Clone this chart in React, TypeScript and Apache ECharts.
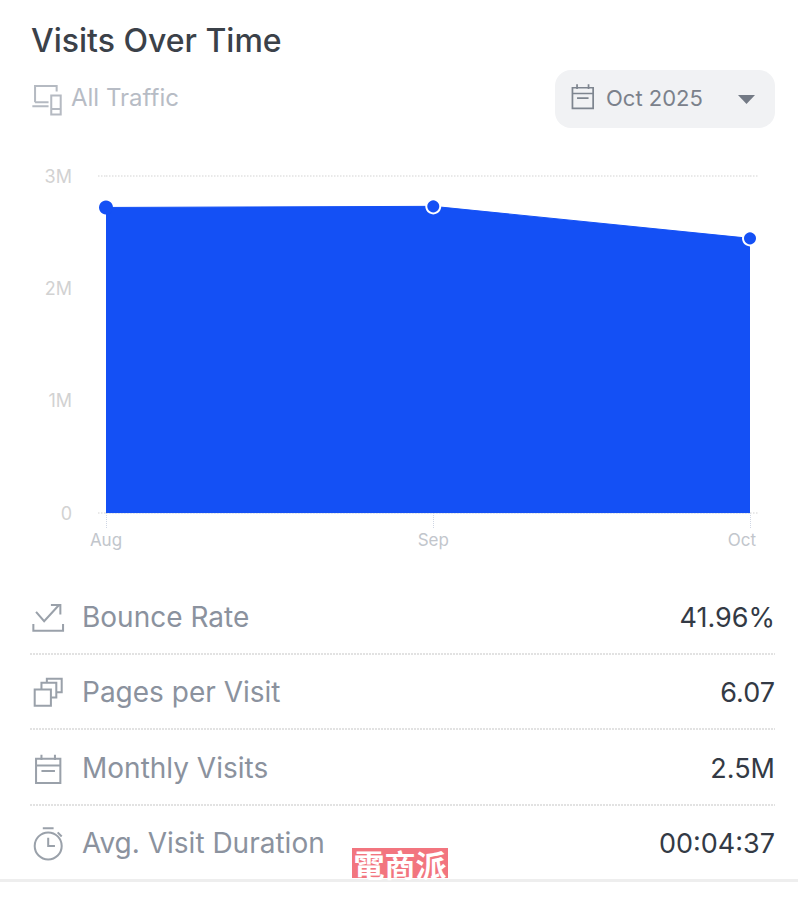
import { useEffect, useRef } from 'react';
import * as echarts from 'echarts';

const dates = ['2025-08-01', '2025-09-01', '2025-10-01'];
const monthNames = ['Aug', 'Sep', 'Oct'];
const visits = [2720000, 2730000, 2445000];
const statLabels = ['Bounce Rate', 'Pages per Visit', 'Monthly Visits', 'Avg. Visit Duration'];
const statValues = ['41.96%', '6.07', '2.5M', '00:04:37'];
const statIcons = ['iconBounce', 'iconPages', 'iconCalendar', 'iconTimer'];

const FONT = 'Inter, "Noto Sans", sans-serif';

// small line icons, drawn in a 24x24 box
echarts.graphic.registerShape('iconDevices', echarts.graphic.extendPath('M3 15V3H19V7M3 15H13M1 18H13M15 10H22V24H15ZM15 20H22', {}));
echarts.graphic.registerShape('iconCalendar', echarts.graphic.extendPath('M3 5H21V23H3ZM3 10H21M7 2V6M17 2V6M7 14H17', {}));
echarts.graphic.registerShape('iconBounce', echarts.graphic.extendPath('M3 8L9 15L20 3M14 3H21V10M1 17V22H23V17', {}));
echarts.graphic.registerShape('iconPages', echarts.graphic.extendPath('M2 10H14V22H2ZM7 10V5H18V16H14M11 5V2H22V12H18', {}));
echarts.graphic.registerShape('iconTimer', echarts.graphic.extendPath('M22 14A10 10 0 1 1 2 14A10 10 0 1 1 22 14ZM12 8V14H17M8 1H16M19 4L22 7', {}));

function label(text: string, x: number, y: number, fontSize: number, fill: string, textAlign = 'left', fontWeight = 400) {
    return {
        type: 'text',
        z: 10,
        style: { text, x, y, fontSize, fill, textAlign, fontWeight, fontFamily: FONT, textVerticalAlign: 'middle' },
    };
}

function icon(type: string, x: number, y: number, stroke: string) {
    return {
        type,
        x,
        y,
        scaleX: 1.35,
        scaleY: 1.35,
        z: 10,
        style: { stroke, fill: 'none', lineWidth: 1.5 },
    };
}

function gridStub(x1: number, x2: number, y: number) {
    return {
        type: 'line',
        z: 1,
        shape: { x1, y1: y, x2, y2: y },
        style: { stroke: '#e2e2e2', lineWidth: 1.5, lineDash: [1.5, 1.5] },
    };
}

export default function App() {
    const chartRef = useRef<HTMLDivElement>(null);

    useEffect(() => {
        const chart = echarts.init(chartRef.current, null, { renderer: 'svg' });

        const rowY = [617, 692, 768, 843];
        const stats: any[] = [];
        statLabels.forEach((name, i) => {
            stats.push(icon(statIcons[i], 32, rowY[i] - 16, '#9aa1aa'));
            stats.push(label(name, 82, rowY[i], 28, '#8b929e'));
            stats.push(label(statValues[i], 775, rowY[i], 27, '#333a45', 'right'));
            if (i < 3) {
                stats.push({
                    type: 'line',
                    z: 10,
                    shape: { x1: 30, y1: rowY[i] + 37, x2: 775, y2: rowY[i] + 37 },
                    style: { stroke: '#d9d9d9', lineWidth: 1.5, lineDash: [2, 1] },
                });
            }
        });

        // months are not the same length, so the x axis runs on real timestamps
        const tickTimes = dates.map((d) => +echarts.time.parse(d));

        const option = {
            animation: false,
            backgroundColor: '#ffffff',
            grid: { left: 106, right: 50, top: 176, bottom: 387 },
            xAxis: {
                type: 'value',
                min: tickTimes[0],
                max: tickTimes[2],
                axisLine: { lineStyle: { color: '#dde3ee', width: 1.5, type: 'dotted' } },
                axisTick: { length: 15, customValues: tickTimes, lineStyle: { color: '#cfd6e4', type: 'dotted' } },
                splitLine: { show: false },
                axisLabel: {
                    margin: 18,
                    color: '#c2c6cc',
                    fontSize: 17,
                    fontFamily: FONT,
                    customValues: tickTimes,
                    formatter: (v: number) => {
                        const name = monthNames[tickTimes.indexOf(+v)];
                        return name === 'Oct' ? '{last|' + name + '}' : name;
                    },
                    rich: { last: { color: '#c2c6cc', fontSize: 17, fontFamily: FONT, padding: [0, 16, 0, 0] } },
                },
            },
            yAxis: {
                type: 'value',
                min: 0,
                max: 3000000,
                interval: 1000000,
                axisLine: { show: false },
                axisTick: { show: false },
                splitLine: { lineStyle: { color: '#e2e2e2', width: 1.5, type: 'dotted' } },
                axisLabel: {
                    margin: 34,
                    color: '#d2d2d2',
                    fontSize: 18,
                    fontFamily: FONT,
                    formatter: (v: number) => (v === 0 ? '0' : v / 1000000 + 'M'),
                },
            },
            series: [
                {
                    type: 'line',
                    data: visits.map((value, i) => ({
                        value: [tickTimes[i], value],
                        itemStyle: { borderWidth: i === 0 ? 0 : 2 },
                    })),
                    showSymbol: true,
                    symbol: 'circle',
                    symbolSize: 14,
                    itemStyle: { color: '#1450f5', borderColor: '#ffffff', borderWidth: 2 },
                    lineStyle: { color: '#1450f5', width: 1 },
                    areaStyle: { color: '#1450f5', opacity: 1 },
                },
            ],
            graphic: [
                gridStub(98, 106, 176),
                gridStub(750, 759, 176),
                gridStub(98, 106, 513),
                gridStub(750, 759, 513),
                label('Visits Over Time', 31, 40, 32, '#3b4149', 'left', 500),
                icon('iconDevices', 31, 82, '#b5bac2'),
                label('All Traffic', 71, 97, 24, '#b7bcc5'),
                {
                    type: 'rect',
                    z: 5,
                    shape: { x: 555, y: 70, width: 220, height: 58, r: 16 },
                    style: { fill: '#f1f2f4' },
                },
                { ...icon('iconCalendar', 569, 82, '#7e858f'), scaleX: 1.15, scaleY: 1.15 },
                label('Oct 2025', 606, 98, 22, '#7b818b'),
                {
                    type: 'polygon',
                    z: 10,
                    shape: { points: [[738, 95], [755, 95], [746.5, 104]] },
                    style: { fill: '#737a85' },
                },
                ...stats,
                {
                    type: 'rect',
                    z: 5,
                    shape: { x: 0, y: 879, width: 798, height: 3 },
                    style: { fill: '#eeeeee' },
                },
                {
                    type: 'rect',
                    z: 11,
                    shape: { x: 352, y: 848, width: 96, height: 30 },
                    style: { fill: '#f2757f' },
                },
                {
                    type: 'text',
                    z: 12,
                    style: {
                        text: '電商派',
                        x: 400,
                        y: 863,
                        fontSize: 31,
                        fontWeight: 700,
                        fill: '#ffffff',
                        textAlign: 'center',
                        textVerticalAlign: 'middle',
                        fontFamily: '"Noto Sans CJK TC"',
                    },
                },
            ],
        };

        chart.setOption(option as any);

        return () => {
            chart.dispose();
        };
    }, []);

    return <div ref={chartRef} style={{ position: 'absolute', left: 0, top: 0, width: 800, height: 900 }} />;
}
